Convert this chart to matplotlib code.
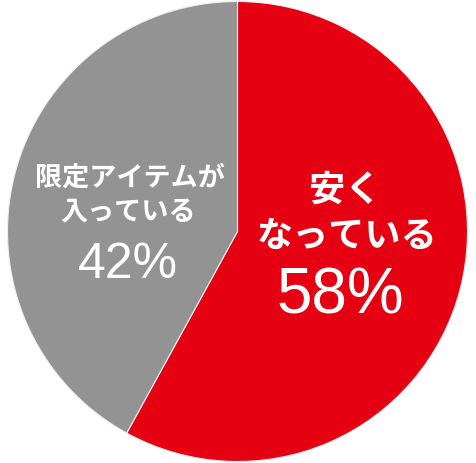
import matplotlib
matplotlib.use("Agg")
import matplotlib.pyplot as plt

plt.rcParams['font.family'] = ['Noto Sans CJK JP', 'DejaVu Sans']

labels = ['安く\nなっている', '限定アイテムが\n入っている']
values = [58, 42]
colors = ['#E50012', '#939393']

W, H = 477, 463
fig = plt.figure(figsize=(W / 100, H / 100), dpi=100)
ax = fig.add_axes([0, 0, 1, 1])

ax.pie(values, colors=colors, startangle=90, counterclock=False,
       center=(237.5, 231.5), radius=230,
       wedgeprops={'edgecolor': '#eeeeee', 'linewidth': 0.8})
ax.set_xlim(0, W)
ax.set_ylim(0, H)
ax.set_aspect('equal')
ax.axis('off')

num_font = ['Liberation Sans', 'DejaVu Sans']

# red slice text
ax.text(345, H - 190, '安く', ha='center', va='center', color='white',
        fontsize=26, weight='bold')
ax.text(347, H - 236, 'なっている', ha='center', va='center', color='white',
        fontsize=26, weight='bold')
ax.text(340, H - 297, f'{values[0]}%', ha='center', va='center', color='white',
        fontsize=46, family=num_font)

# gray slice text
ax.text(130, H - 178, '限定アイテムが', ha='center', va='center', color='white',
        fontsize=19.5, weight='bold')
ax.text(128, H - 212, '入っている', ha='center', va='center', color='white',
        fontsize=19.5, weight='bold')
ax.text(128, H - 265, f'{values[1]}%', ha='center', va='center', color='white',
        fontsize=36, family=num_font)

fig.savefig('out.png', dpi=100)
